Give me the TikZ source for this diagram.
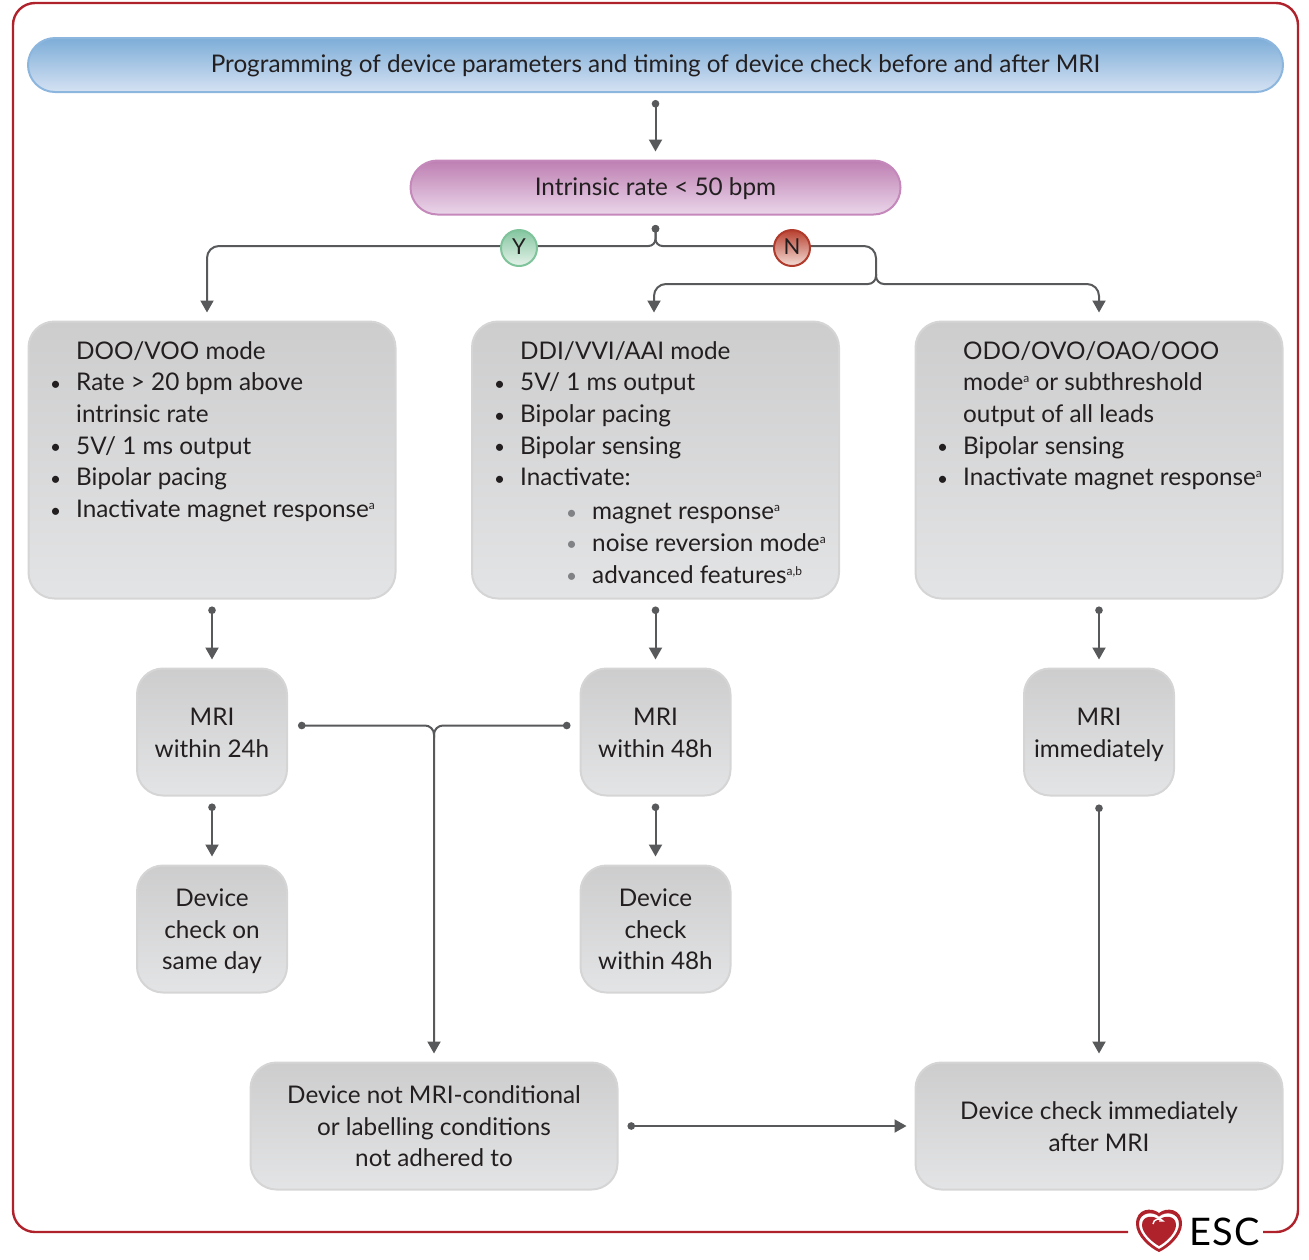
\documentclass[tikz,border=0pt]{standalone}
\usepackage{fontspec}
\setmainfont{Lato}
\usetikzlibrary{arrows.meta}
\definecolor{inkline}{HTML}{58595B}
\definecolor{inktext}{HTML}{231F20}
\definecolor{escred}{HTML}{B0222B}
\definecolor{subdot}{HTML}{808285}
\definecolor{bluetop}{HTML}{7DADD8}
\definecolor{bluebot}{HTML}{D5E2F3}
\definecolor{blueedge}{HTML}{8DB6DF}
\definecolor{pinktop}{HTML}{BE7FB2}
\definecolor{pinkbot}{HTML}{EAD6EA}
\definecolor{pinkedge}{HTML}{C588BB}
\definecolor{graytop}{HTML}{CDCDCE}
\definecolor{graybot}{HTML}{E3E4E5}
\definecolor{grayedge}{HTML}{D5D5D6}
\definecolor{greentop}{HTML}{84C6A0}
\definecolor{greenbot}{HTML}{E5F2EA}
\definecolor{greenedge}{HTML}{7FC39B}
\definecolor{redtop}{HTML}{B8402F}
\definecolor{redbot}{HTML}{F3DDD6}
\definecolor{rededge}{HTML}{B03A2B}
\newcommand{\blt}{\leavevmode\llap{\raisebox{0.5pt}{\fontsize{19}{19}\selectfont\textbullet}\hspace{15pt}}}
\newcommand{\subblt}{\leavevmode\hspace*{72pt}\llap{\raisebox{0.5pt}{\fontsize{19}{19}\selectfont\textcolor{subdot}{\textbullet}}\hspace{15pt}}}
\newcommand{\supr}[1]{\raisebox{8pt}{\fontsize{12}{12}\selectfont #1}}
\newcommand{\firstln}{\rule{0pt}{24pt}}
\tikzset{
  txt/.style={font=\fontsize{24.3}{31.7}\selectfont, text=inktext, align=center},
  listtxt/.style={txt, align=left, anchor=north west, inner sep=0pt},
  banner/.style={txt, line width=2pt, rounded corners=27pt, minimum height=54pt,
    execute at begin node=\rule{0pt}{23pt}, execute at end node=\rule[-7.5pt]{0pt}{7.5pt}},
  graybox/.style={txt, draw=grayedge, line width=2pt, top color=graytop, bottom color=graybot, rounded corners=26pt, inner sep=0pt,
    execute at end node=\rule[-5.7pt]{0pt}{5.7pt}},
  badge/.style={circle, text=inktext, line width=2pt, minimum size=36pt, inner sep=0pt, font=\fontsize{22}{24}\selectfont,
    execute at end node=\rule[-2pt]{0pt}{2pt}},
  conn/.style={draw=inkline, line width=2pt, {Circle[length=7.5pt]}-{Triangle[length=12pt,width=13pt]}},
  connend/.style={draw=inkline, line width=2pt, {Circle[length=7.5pt]}-},
  connsplit/.style={draw=inkline, line width=2pt, -{Triangle[length=12pt,width=13pt]}},
}
\begin{document}
\begin{tikzpicture}[x=1pt,y=-1pt]
  \useasboundingbox (0,0) rectangle (1309,1259);

  % Marco
  \draw[escred, line width=2.4pt, rounded corners=22pt] (1128,1232) -- (13,1232) -- (13,3) -- (1298,3) -- (1298,1232) -- (1263,1232);

  % Cabeceras
  \node[banner, draw=blueedge, top color=bluetop, bottom color=bluebot, minimum width=1255pt] (progbar) at (655.5,65) {Programming of device parameters and timing of device check before and after MRI};
  \node[banner, draw=pinkedge, top color=pinktop, bottom color=pinkbot, minimum width=490pt] (ratebar) at (655.5,187.5) {Intrinsic rate < 50 bpm};

  % Modos
  \foreach \name/\x in {doomode/212,ddimode/655.5,odomode/1099}
    \node[graybox, minimum width=367pt, minimum height=277pt] (\name) at (\x,460) {};

  % Tiempos de MRI y de control
  \foreach \name/\x/\lbl in {mrione/212/{MRI\\within 24h},mritwo/655.5/{MRI\\within 48h},mrinow/1099/{MRI\\immediately}}
    \node[graybox, minimum width=150pt, minimum height=127pt] (\name) at (\x,732) {\firstln\lbl};
  \foreach \name/\x/\lbl in {checkone/212/{Device\\check on\\same day},checktwo/655.5/{Device\\check\\within 48h}}
    \node[graybox, minimum width=150pt, minimum height=127pt] (\name) at (\x,929) {\firstln\lbl};
  \node[graybox, minimum width=367pt, minimum height=127pt] (notcond) at (434,1126) {\firstln Device not MRI-conditional\\or labelling conditions\\not adhered to};
  \node[graybox, minimum width=367pt, minimum height=127pt] (checknow) at (1099,1126) {\firstln Device check immediately\\after MRI};

  % Listas
  \node[listtxt] (dootxt) at (76,341) {DOO/VOO mode\\
    \blt Rate > 20 bpm above\\
    intrinsic rate\\
    \blt 5V/ 1 ms output\\
    \blt Bipolar pacing\\
    \blt Inactivate magnet response\supr{a}};
  \node[listtxt] (dditxt) at (520,341) {DDI/VVI/AAI mode\\
    \blt 5V/ 1 ms output\\
    \blt Bipolar pacing\\
    \blt Bipolar sensing\\
    \blt Inactivate:\\[2pt]
    \subblt magnet response\supr{a}\\
    \subblt noise reversion mode\supr{a}\\
    \subblt advanced features\supr{a,b}};
  \node[listtxt] (odotxt) at (963,341) {ODO/OVO/OAO/OOO\\
    mode\supr{a} or subthreshold\\
    output of all leads\\
    \blt Bipolar sensing\\
    \blt Inactivate magnet response\supr{a}};

  % Flechas rectas
  \draw[conn, shorten <=7pt, shorten >=8pt] (progbar) -- (ratebar);
  \foreach \from/\to in {doomode/mrione,ddimode/mritwo,odomode/mrinow,mrione/checkone,mritwo/checktwo}
    \draw[conn, shorten <=7pt, shorten >=8pt] (\from) -- (\to);
  \draw[conn, shorten <=8pt, shorten >=8pt] (mrinow) -- (checknow);
  \draw[conn, shorten <=9pt, shorten >=8pt] (notcond) -- (checknow);

  % Ramas Y / N
  \coordinate (splitrate) at (655.5,246);
  \coordinate (splitno) at (876,284);
  \draw[conn, shorten <=9.5pt, shorten >=8pt, rounded corners=7pt] (ratebar.south) -- (splitrate) [rounded corners=12pt] -- ([xshift=-5pt]doomode.north |- splitrate) -- ([xshift=-5pt]doomode.north);
  \draw[connend, shorten <=9.5pt, rounded corners=7pt] (ratebar.south) -- (splitrate) [rounded corners=12pt] -- (splitrate -| splitno) -- ([yshift=10pt]splitno);
  \draw[connsplit, shorten >=8pt, rounded corners=8pt] ([yshift=10pt]splitno) -- (splitno) [rounded corners=12pt] -- ([xshift=-1.5pt]ddimode.north |- splitno) -- ([xshift=-1.5pt]ddimode.north);
  \draw[connsplit, shorten >=8pt, rounded corners=8pt] ([yshift=10pt]splitno) -- (splitno) [rounded corners=12pt] -- (odomode.north |- splitno) -- (odomode.north);
  \node[badge, draw=greenedge, top color=greentop, bottom color=greenbot] (yesdot) at (519,248) {Y};
  \node[badge, draw=rededge, top color=redtop, bottom color=redbot] (nodot) at (792,248) {N};

  % Union hacia el aviso de dispositivo
  \coordinate (mergept) at (434,725.5);
  \draw[conn, shorten <=10pt, shorten >=8pt, rounded corners=9pt] (mrione.east |- mergept) -- (mergept) -- (notcond.north);
  \draw[connend, shorten <=9pt, rounded corners=9pt] (mritwo.west |- mergept) -- (mergept) -- ++(0,12);

  % Logo
  \fill[escred, even odd rule] (1159,1213) .. controls (1166,1207) and (1182,1208) .. (1182,1224) .. controls (1182,1236) and (1168,1248) .. (1159,1252) .. controls (1150,1248) and (1136,1236) .. (1136,1224) .. controls (1136,1208) and (1152,1207) .. cycle
    (1159,1216.5) .. controls (1165,1211) and (1179,1212) .. (1179,1224) .. controls (1179,1234) and (1167,1245) .. (1159,1249) .. controls (1151,1245) and (1139,1234) .. (1139,1224) .. controls (1139,1212) and (1153,1211) .. cycle;
  \fill[escred] (1159,1220) .. controls (1164,1215) and (1176,1215) .. (1176,1225) .. controls (1176,1233) and (1166,1242) .. (1159,1246) .. controls (1152,1242) and (1142,1233) .. (1142,1225) .. controls (1142,1215) and (1154,1215) .. cycle;
  \draw[white, line width=1.4pt] (1153,1224) .. controls (1153,1219) and (1161,1217) .. (1163,1221) -- (1159,1221);
  \node[inner sep=0pt, anchor=base west, text=black, font=\fontsize{38}{40}\selectfont\addfontfeature{LetterSpace=3}] (esctxt) at (1189,1245) {ESC};
\end{tikzpicture}
\end{document}
